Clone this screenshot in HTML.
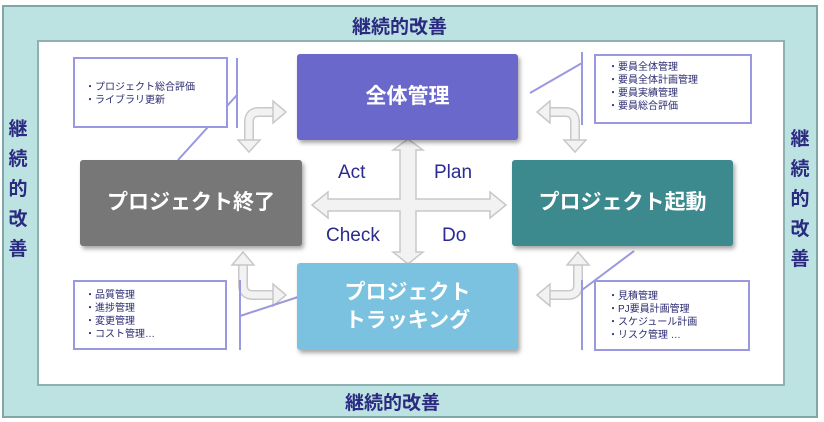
<!DOCTYPE html>
<html><head><meta charset="utf-8"><style>
body{margin:0;width:824px;height:422px;background:#fff;position:relative;overflow:hidden;font-family:"Liberation Sans","Noto Sans CJK JP",sans-serif}
.a{position:absolute}
.box{position:absolute;color:#fff;font-weight:bold;font-size:21px;display:flex;align-items:center;justify-content:center;text-align:center;border-radius:3px;box-shadow:2px 3px 4px rgba(0,0,0,.35);line-height:1.3}
.note{position:absolute;border:2px solid #9a98e0;background:#fff;font-size:10px;color:#2a2a70;line-height:13px;box-sizing:border-box}
.k{color:#2a2a80;font-weight:bold;font-size:19px}
.v{position:absolute;width:20px;text-align:center;line-height:30px}
.lab{position:absolute;color:#2a2a90;font-size:19px}
</style></head><body>
<div class="a" style="left:2px;top:5px;width:812px;height:409px;background:#bde2e2;border:2px solid #7fa7a7"></div>
<div class="a" style="left:37px;top:40px;width:744px;height:342px;background:#fff;border:2px solid #8fb0b0"></div>
<div class="a k" style="left:352px;top:12px">継続的改善</div>
<div class="a k" style="left:345px;top:388px">継続的改善</div>
<div class="k v" style="left:8px;top:115px">継<br>続<br>的<br>改<br>善</div>
<div class="k v" style="left:790px;top:125px">継<br>続<br>的<br>改<br>善</div>

<svg class="a" style="left:0;top:0" width="824" height="422">
<g fill="#f2f2f2" stroke="#c8c8c8" stroke-width="1.5">
<path d="M312 205 L328 192 L328 199 L400 199 L400 150 L393 150 L408 139 L423 150 L416 150 L416 199 L490 199 L490 192 L506 205 L490 218 L490 211 L416 211 L416 252 L423 252 L408 264 L393 252 L400 252 L400 211 L328 211 L328 218 Z"/>
</g>
<g fill="none" stroke-linecap="butt">
<g stroke="#c8c8c8" stroke-width="10">
<path d="M249 141 V122 Q249 112 259 112 H274"/>
<path d="M575 141 V122 Q575 112 565 112 H549"/>
<path d="M243 264 V285 Q243 295 253 295 H274"/>
<path d="M578 264 V285 Q578 295 568 295 H549"/>
</g>
<g stroke="#f2f2f2" stroke-width="7">
<path d="M249 142 V122 Q249 112 259 112 H275"/>
<path d="M575 142 V122 Q575 112 565 112 H548"/>
<path d="M243 263 V285 Q243 295 253 295 H275"/>
<path d="M578 263 V285 Q578 295 568 295 H548"/>
</g>
</g>
<g fill="#f2f2f2" stroke="#c8c8c8" stroke-width="1.5">
<polygon points="238,140 260,140 249,152"/>
<polygon points="273,101 273,123 286,112"/>
<polygon points="564,140 586,140 575,152"/>
<polygon points="550,101 550,123 537,112"/>
<polygon points="232,265 254,265 243,252"/>
<polygon points="273,284 273,306 286,295"/>
<polygon points="567,265 589,265 578,252"/>
<polygon points="550,284 550,306 537,295"/>
</g>
<g stroke="#9a98e0" stroke-width="2" fill="none">
<line x1="237" y1="58" x2="237" y2="128"/><line x1="237" y1="95" x2="178" y2="160"/>
<line x1="582" y1="52" x2="582" y2="125"/><line x1="582" y1="63" x2="530" y2="93"/>
<line x1="582" y1="280" x2="582" y2="350"/><line x1="582" y1="290" x2="634" y2="251"/>
<line x1="240" y1="280" x2="240" y2="350"/><line x1="240" y1="316" x2="298" y2="297"/>
</g>
</svg>

<div class="note" style="left:73px;top:57px;width:155px;height:71px;padding:22px 0 0 10px">・プロジェクト総合評価<br>・ライブラリ更新</div>
<div class="note" style="left:594px;top:54px;width:158px;height:70px;padding:5px 0 0 12px">・要員全体管理<br>・要員全体計画管理<br>・要員実績管理<br>・要員総合評価</div>
<div class="note" style="left:73px;top:280px;width:154px;height:70px;padding:7px 0 0 10px">・品質管理<br>・進捗管理<br>・変更管理<br>・コスト管理…</div>
<div class="note" style="left:594px;top:280px;width:156px;height:71px;padding:8px 0 0 12px">・見積管理<br>・PJ要員計画管理<br>・スケジュール計画<br>・リスク管理 …</div>

<div class="box" style="left:297px;top:54px;width:221px;height:86px;background:#6b68cc">全体管理</div>
<div class="box" style="left:80px;top:160px;width:222px;height:86px;background:#777">プロジェクト終了</div>
<div class="box" style="left:512px;top:160px;width:221px;height:86px;background:#3c8a8d">プロジェクト起動</div>
<div class="box" style="left:297px;top:263px;width:221px;height:87px;background:#7ac2e0">プロジェクト<br>トラッキング</div>

<div class="lab" style="left:338px;top:162px">Act</div>
<div class="lab" style="left:434px;top:162px">Plan</div>
<div class="lab" style="left:326px;top:225px">Check</div>
<div class="lab" style="left:442px;top:225px">Do</div>
</body></html>
